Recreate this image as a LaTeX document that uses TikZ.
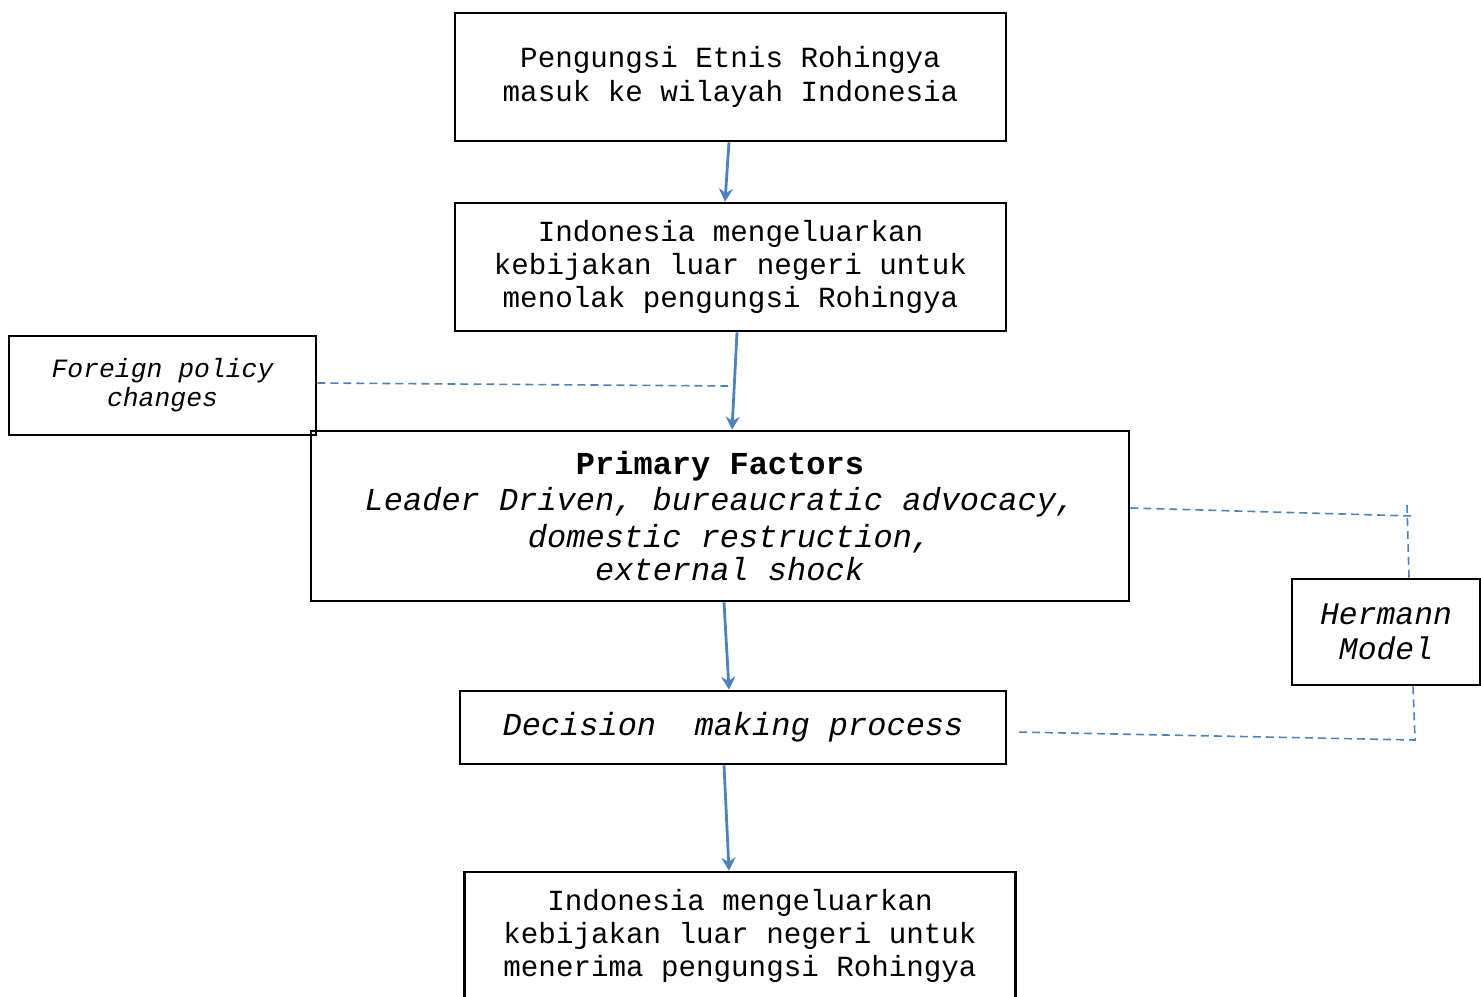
\documentclass[tikz,border=0pt]{standalone}
\usepackage{fontspec}
\setmainfont{Liberation Mono}
\usepackage{tikz}
\usetikzlibrary{arrows.meta, calc}
\definecolor{flowblue}{RGB}{79,129,189}
\tikzset{
  stepbox/.style={rectangle,draw=black,line width=1.3pt,align=center,inner sep=2pt},
  mainbox/.style={stepbox,minimum width=275.5pt,minimum height=64pt,font=\fontsize{14.6}{16.6}\selectfont},
  factorbox/.style={stepbox,minimum width=409pt,minimum height=85pt,font=\fontsize{16}{18.3}\selectfont\itshape},
  sidebox/.style={stepbox,font=\fontsize{13.2}{14.6}\selectfont\itshape},
  flowarrow/.style={-{Stealth[length=6.5pt,width=7pt]},line width=1.4pt,flowblue},
  modeldash/.style={flowblue,line width=0.8pt,dash pattern=on 4pt off 2.5pt},
}

\begin{document}
\begin{tikzpicture}[x=0.5pt,y=0.5pt]
  \useasboundingbox (0,0) rectangle (1481,996);
  \node[mainbox] (masuk) at (730.5,919) {Pengungsi Etnis Rohingya\\masuk ke wilayah Indonesia};
  \node[mainbox] (tolak) at (730.5,729) {Indonesia mengeluarkan\\kebijakan luar negeri untuk\\menolak pengungsi Rohingya};
  \node[sidebox,minimum width=153.5pt,minimum height=49.5pt] (fpc) at (162.5,610.5) {Foreign policy\\changes};
  \node[factorbox] (prim) at (720,480) {\textbf{\upshape Primary Factors}\\Leader Driven, bureaucratic advocacy,\\~domestic restruction,\\[-1.5pt]~external shock};
  \node[sidebox,font=\fontsize{15.7}{17.5}\selectfont\itshape,minimum width=94pt,minimum height=53pt] (herm) at (1386,364) {Hermann\\Model};
  \node[stepbox,font=\fontsize{16}{18}\selectfont\itshape,minimum width=273pt,minimum height=36.5pt] (dec) at (733,268.5) {Decision~~making process};
  \node[mainbox] (terima) at (740,60) {Indonesia mengeluarkan\\kebijakan luar negeri untuk\\menerima pengungsi Rohingya};
  % dashed links to the side boxes
  \coordinate (fpcend) at (728,610);
  \coordinate (hmtop) at (1413,480);
  \coordinate (hmtick) at (1407,491);
  \coordinate (hmlow) at (1415,256);
  \draw[flowarrow] ([xshift=-0.75pt]masuk.south) -- ([xshift=-2.75pt]tolak.north);
  \draw[flowarrow] ([xshift=3.25pt]tolak.south) -- ([xshift=6pt]prim.north);
  \draw[flowarrow] ([xshift=2pt]prim.south) -- ([xshift=-2pt]dec.north);
  \draw[flowarrow] ([xshift=-4.5pt]dec.south) -- ([xshift=-5.5pt]terima.north);
  \draw[modeldash] ([yshift=1.25pt]fpc.east) -- (fpcend);
  \draw[modeldash] ([yshift=4pt]prim.east) -- (hmtop);
  \draw[modeldash] (hmtick) -- ([xshift=11.5pt]herm.north);
  \draw[modeldash] ([xshift=13.5pt]herm.south) -- (hmlow) -- ([xshift=4pt,yshift=-2.25pt]dec.east);
\end{tikzpicture}
\end{document}
